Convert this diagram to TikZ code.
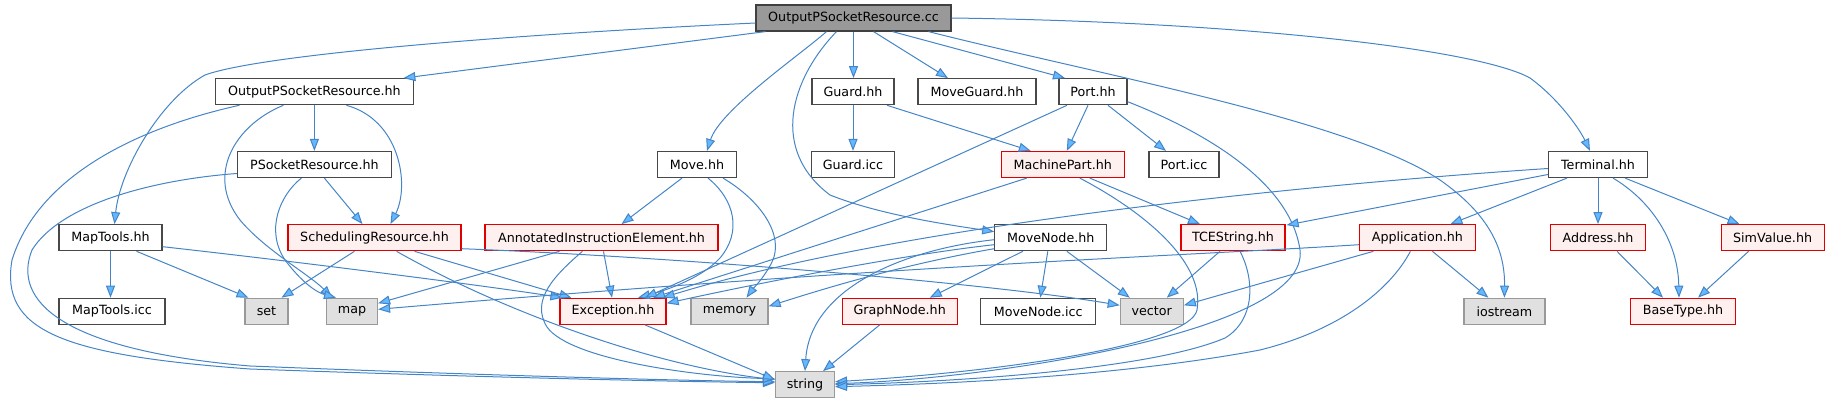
\documentclass[tikz,border=0pt]{standalone}
\usepackage{fontspec}
\setmainfont{DejaVu Sans}
\usetikzlibrary{arrows.meta,calc}
\definecolor{edgec}{HTML}{4584C6}
\definecolor{arrowf}{HTML}{63B8FF}
\definecolor{wborder}{HTML}{484848}
\definecolor{rfill}{HTML}{FFF0F0}
\definecolor{rborder}{HTML}{E00000}
\definecolor{gfill}{HTML}{E0E0E0}
\definecolor{gborder}{HTML}{999999}
\definecolor{rootfill}{HTML}{999999}
\definecolor{rootborder}{HTML}{404040}
\begin{document}
\begin{tikzpicture}[x=1pt,y=-1pt,font=\fontsize{12.7}{15}\selectfont,
 box/.style={draw,line width=1.2pt,minimum height=26pt,inner sep=0pt,text=black},
 wbox/.style={box,fill=white,draw=wborder},
 rbox/.style={box,fill=rfill,draw=rborder},
 gbox/.style={box,fill=gfill,draw=gborder},
 rootbox/.style={box,fill=rootfill,draw=rootborder},
 dep/.style={draw=edgec,line width=1.0pt,-{Triangle[length=12pt,width=9pt,fill=arrowf]}}]
\useasboundingbox (0,0) rectangle (1829,403);
% nodes
\node[rootbox,minimum width=195pt] (cc) at (853.5,18) {OutputPSocketResource.cc};
\node[wbox,minimum width=198pt] (opsr) at (314.4,91.7) {OutputPSocketResource.hh};
\node[wbox,minimum width=82pt] (guard) at (853,91.7) {Guard.hh};
\node[wbox,minimum width=118pt] (moveguard) at (977,91.7) {MoveGuard.hh};
\node[wbox,minimum width=68pt] (port) at (1093,91.7) {Port.hh};
\node[wbox,minimum width=154pt] (psr) at (314.4,164.5) {PSocketResource.hh};
\node[wbox,minimum width=79pt] (move) at (697,164.5) {Move.hh};
\node[wbox,minimum width=83pt] (guardicc) at (853,164.5) {Guard.icc};
\node[rbox,minimum width=123pt] (machinepart) at (1062.8,164.5) {MachinePart.hh};
\node[wbox,minimum width=70pt] (porticc) at (1184,164.5) {Port.icc};
\node[wbox,minimum width=99pt] (terminal) at (1598,164.5) {Terminal.hh};
\node[wbox,minimum width=103pt] (maptools) at (110.5,237.7) {MapTools.hh};
\node[rbox,minimum width=173pt] (sr) at (374.5,237.7) {SchedulingResource.hh};
\node[rbox,minimum width=233pt] (aie) at (601.5,237.7) {AnnotatedInstructionElement.hh};
\node[wbox,minimum width=112pt] (movenode) at (1050.8,237.7) {MoveNode.hh};
\node[rbox,minimum width=104pt] (tcestring) at (1233,237.7) {TCEString.hh};
\node[rbox,minimum width=116pt] (application) at (1417.4,237.7) {Application.hh};
\node[rbox,minimum width=95pt] (address) at (1598,237.7) {Address.hh};
\node[rbox,minimum width=103pt] (simvalue) at (1772.6,237.7) {SimValue.hh};
\node[wbox,minimum width=106pt] (maptoolsicc) at (112,311.3) {MapTools.icc};
\node[gbox,minimum width=43pt] (set) at (266.5,311.3) {set};
\node[gbox,minimum width=51pt] (map) at (352,311.3) {map};
\node[rbox,minimum width=106pt] (exception) at (613,311.3) {Exception.hh};
\node[gbox,minimum width=77pt] (memory) at (729.5,311.3) {memory};
\node[rbox,minimum width=115pt] (graphnode) at (899.7,311.3) {GraphNode.hh};
\node[wbox,minimum width=115pt] (movenodeicc) at (1038.3,311.3) {MoveNode.icc};
\node[gbox,minimum width=63pt] (vector) at (1151.8,311.3) {vector};
\node[gbox,minimum width=81pt] (iostream) at (1504.4,311.3) {iostream};
\node[rbox,minimum width=104.5pt] (basetype) at (1683,311.3) {BaseType.hh};
\node[gbox,minimum width=59pt] (string) at (805,384.7) {string};
% edges from cc
\draw[dep] ($(cc.south)+(-88,0)$) -- ($(opsr.north)+(89,0)$);
\draw[dep] ($(cc.west)+(0,5)$) .. controls (500,35) and (260,55) .. (205,75) .. controls (160,100) and (120,170) .. ($(maptools.north)+(4,0)$);
\draw[dep] (cc.south) -- (cc.south |- guard.north);
\draw[dep] ($(cc.south)+(20,0)$) -- ($(moveguard.north)+(-29,0)$);
\draw[dep] ($(cc.south)+(39,0)$) -- ($(port.north)+(-28,0)$);
\draw[dep] ($(cc.south)+(-27,0)$) .. controls (800,55) and (720,110) .. ($(move.north)+(10,0)$);
\draw[dep] ($(cc.south)+(-17,0)$) .. controls (790,80) and (770,150) .. (830,195) .. controls (880,215) and (950,225) .. ($(movenode.west)+(0,-6)$);
\draw[dep] (cc.east) .. controls (1250,22) and (1480,50) .. (1530,78) .. controls (1560,100) and (1580,130) .. ($(terminal.north)+(-8,0)$);
\draw[dep] ($(cc.south)+(75,0)$) .. controls (1100,75) and (1350,120) .. (1440,180) .. controls (1490,215) and (1505,250) .. (iostream.north);
% opsr
\draw[dep] (opsr.south) -- (psr.north);
\draw[dep] ($(opsr.south)+(32,0)$) .. controls (400,120) and (410,185) .. ($(sr.north)+(16,0)$);
\draw[dep] ($(opsr.south)+(-31,0)$) .. controls (235,125) and (205,175) .. (240,220) .. controls (265,250) and (310,275) .. ($(map.north)+(-20,0)$);
\draw[dep] ($(opsr.south)+(-75,0)$) .. controls (150,125) and (40,170) .. (12,260) .. controls (0,330) and (60,355) .. (250,369) .. controls (500,378) and (700,382) .. ($(string.west)+(0,-2)$);
% psr
\draw[dep] ($(psr.south)+(10,0)$) -- ($(sr.north)+(-12,0)$);
\draw[dep] ($(psr.south)+(-13,0)$) .. controls (280,195) and (265,230) .. (285,260) .. controls (300,280) and (315,292) .. ($(map.north)+(-16,0)$);
\draw[dep] ($(psr.west)+(0,9)$) .. controls (150,180) and (60,205) .. (32,250) .. controls (12,300) and (60,350) .. (250,366) .. controls (500,376) and (700,381) .. ($(string.west)+(0,-3)$);
% maptools
\draw[dep] (maptools.south) -- (maptools.south |- maptoolsicc.north);
\draw[dep] ($(maptools.south)+(26,0)$) -- ($(set.north)+(-18,0)$);
\draw[dep] ($(maptools.east)+(0,9)$) .. controls (300,262) and (480,285) .. ($(exception.north west)+(3,0)$);
% sr
\draw[dep] ($(sr.south)+(-20,0)$) -- ($(set.north)+(15,0)$);
\draw[dep] ($(sr.south)+(40,0)$) -- ($(exception.north west)+(12,0)$);
\draw[dep] ($(sr.south)+(22,0)$) .. controls (500,310) and (650,365) .. ($(string.west)+(0,-5)$);
\draw[dep] ($(sr.east)+(0,11)$) .. controls (700,258) and (1000,285) .. ($(vector.west)+(0,-6)$);
% aie
\draw[dep] ($(aie.south)+(2,0)$) -- ($(exception.north)+(-1,0)$);
\draw[dep] ($(aie.south)+(-42,0)$) -- ($(map.east)+(0,-8)$);
\draw[dep] ($(aie.south)+(-19,0)$) .. controls (555,275) and (530,300) .. (547,327) .. controls (570,360) and (700,377) .. ($(string.west)+(0,-6)$);
% move
\draw[dep] ($(move.south)+(-15,0)$) -- ($(aie.north)+(20,0)$);
\draw[dep] ($(move.south)+(11,0)$) .. controls (735,200) and (742,232) .. (720,258) .. controls (700,280) and (660,292) .. ($(exception.north)+(25,0)$);
\draw[dep] ($(move.south)+(26,0)$) .. controls (760,200) and (785,235) .. (772,262) .. controls (764,278) and (752,290) .. ($(memory.north)+(17,0)$);
% guard
\draw[dep] (guard.south) -- (guardicc.north);
\draw[dep] ($(guard.south)+(34,0)$) -- ($(machinepart.north)+(-32,0)$);
% port
\draw[dep] ($(port.south)+(-5,0)$) -- ($(machinepart.north)+(4,0)$);
\draw[dep] ($(port.south)+(15,0)$) -- ($(porticc.north)+(-18,0)$);
\draw[dep] ($(port.south)+(-26,0)$) -- ($(exception.north)+(32,0)$);
\draw[dep] ($(port.east)+(0,10)$) .. controls (1200,130) and (1290,180) .. (1300,250) .. controls (1310,330) and (1000,378) .. ($(string.east)+(0,-1)$);
% machinepart
\draw[dep] ($(machinepart.south)+(-36,0)$) -- ($(exception.north)+(40,0)$);
\draw[dep] ($(machinepart.south)+(27,0)$) -- ($(tcestring.north)+(-33,0)$);
\draw[dep] ($(machinepart.south)+(17,0)$) .. controls (1150,215) and (1205,265) .. (1197,310) .. controls (1190,345) and (1000,372) .. ($(string.east)+(0,-3)$);
% tcestring
\draw[dep] ($(tcestring.south)+(-13,0)$) -- ($(vector.north)+(15,0)$);
\draw[dep] ($(tcestring.south)+(7,0)$) .. controls (1255,280) and (1255,320) .. (1225,338) .. controls (1150,370) and (950,382) .. (string.east);
% application
\draw[dep] ($(application.south)+(15,0)$) -- ($(iostream.north)+(-16,0)$);
\draw[dep] ($(application.south)+(-44,0)$) -- ($(vector.east)+(0,-6)$);
\draw[dep] ($(application.west)+(0,7)$) .. controls (1200,255) and (900,265) .. ($(map.east)+(0,-2)$);
\draw[dep] ($(application.south)+(-7,0)$) .. controls (1390,290) and (1340,330) .. (1260,350) .. controls (1100,380) and (900,385) .. ($(string.east)+(0,2)$);
% terminal
\draw[dep] ($(terminal.west)+(0,4)$) .. controls (1300,185) and (900,225) .. ($(exception.north east)+(-4,0)$);
\draw[dep] ($(terminal.west)+(0,10)$) -- ($(tcestring.north east)+(1,1)$);
\draw[dep] ($(terminal.south)+(-31,0)$) -- ($(application.north)+(33,0)$);
\draw[dep] (terminal.south) -- (address.north);
\draw[dep] ($(terminal.south)+(15,0)$) .. controls (1650,200) and (1678,240) .. ($(basetype.north)+(-4,0)$);
\draw[dep] ($(terminal.south)+(27,0)$) -- ($(simvalue.north)+(-33,0)$);
% address / simvalue
\draw[dep] ($(address.south)+(19,0)$) -- ($(basetype.north)+(-20,0)$);
\draw[dep] ($(simvalue.south)+(-24,0)$) -- ($(basetype.north)+(15,0)$);
% movenode
\draw[dep] ($(movenode.south)+(-28,0)$) -- ($(graphnode.north)+(30,0)$);
\draw[dep] ($(movenode.south)+(-3,0)$) -- ($(movenodeicc.north)+(2,0)$);
\draw[dep] ($(movenode.south)+(16,0)$) -- ($(vector.north)+(-22,0)$);
\draw[dep] ($(movenode.west)+(0,2)$) .. controls (900,250) and (810,290) .. (string.north);
\draw[dep] ($(movenode.west)+(0,7)$) .. controls (900,255) and (750,285) .. ($(exception.east)+(0,-8)$);
\draw[dep] ($(movenode.west)+(0,11)$) .. controls (900,265) and (820,290) .. ($(memory.east)+(0,-5)$);
% exception / graphnode
\draw[dep] ($(exception.south)+(32,0)$) -- ($(string.west)+(0,-5)$);
\draw[dep] ($(graphnode.south)+(-20,0)$) -- ($(string.north)+(18,0)$);
\end{tikzpicture}
\end{document}
